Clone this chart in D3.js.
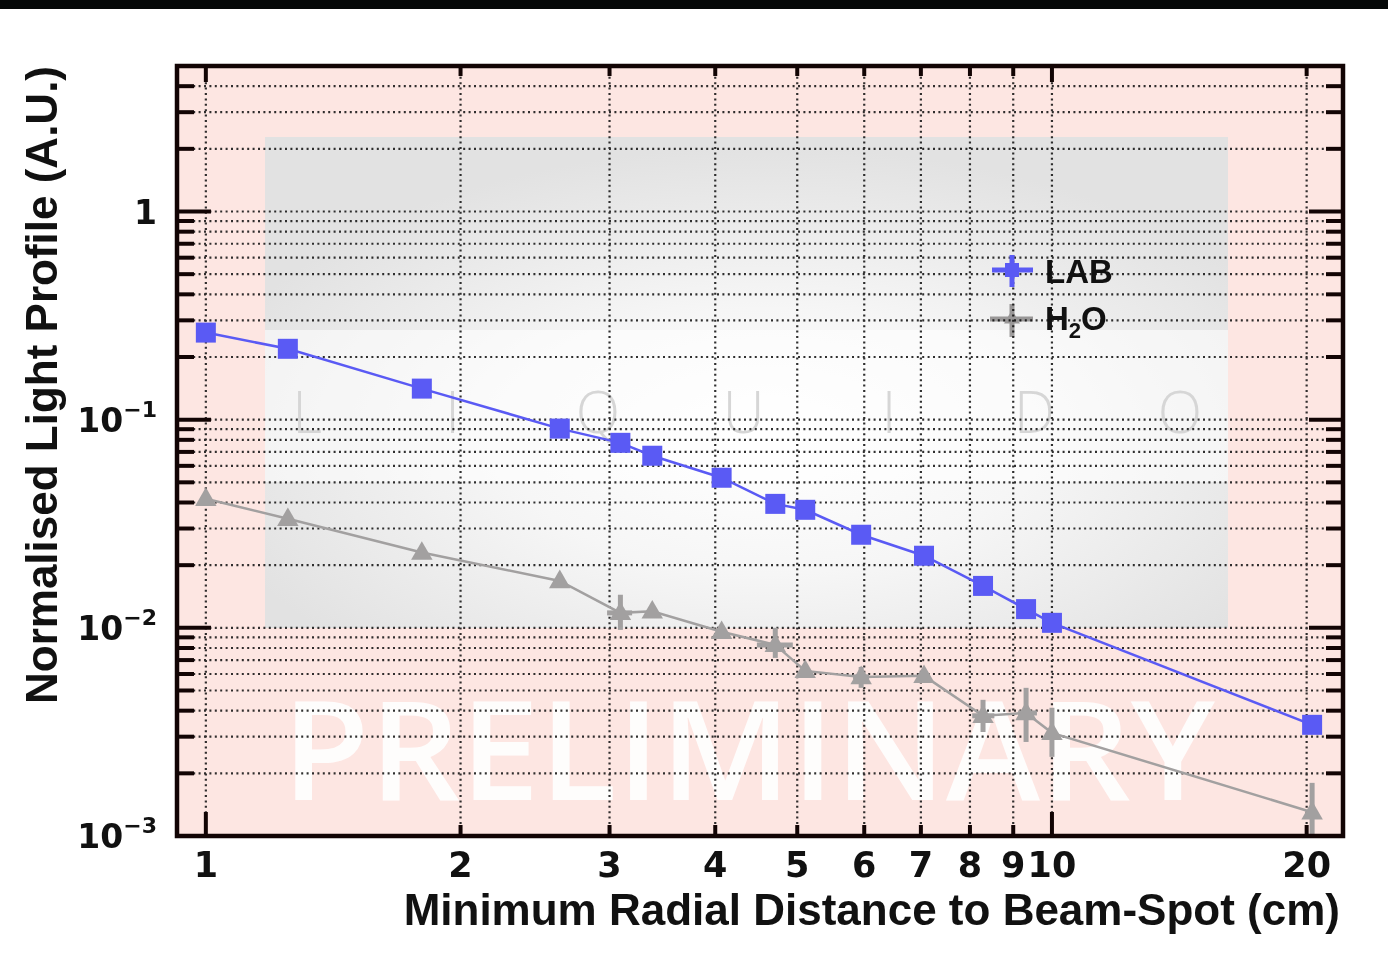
<!DOCTYPE html>
<html>
<head>
<meta charset="utf-8">
<script src="https://cdn.jsdelivr.net/npm/d3@7"></script>
<style>
  html, body { margin: 0; padding: 0; background: #fff; }
  svg { display: block; }
</style>
</head>
<body>
<div id="chart"></div>
<script>
// distances (cm), shared by both series
var distances = [1.0, 1.25, 1.80, 2.62, 3.09, 3.37, 4.07, 4.71, 5.11, 5.95, 7.06, 8.29, 9.32, 10.0, 20.3];

// LAB light profile
var labValues = [0.262, 0.219, 0.141, 0.0906, 0.0774, 0.0671, 0.0526, 0.0394, 0.0369, 0.0280, 0.0222, 0.0159, 0.0123, 0.01057, 0.00342];

// H2O light profile + error bars
var h2oValues = [0.0417, 0.0334, 0.0230, 0.0168, 0.0118, 0.0120, 0.00957, 0.00828, 0.00621, 0.00581, 0.00588, 0.00378, 0.00390, 0.00313, 0.00130];
var h2oLow    = [0.0417, 0.0334, 0.0230, 0.0168, 0.00978, 0.0120, 0.00957, 0.00717, 0.00621, 0.00515, 0.00588, 0.00316, 0.00283, 0.0024, 0.00095];
var h2oHigh   = [0.0417, 0.0334, 0.0230, 0.0168, 0.01442, 0.0120, 0.00957, 0.0100, 0.00621, 0.00649, 0.00588, 0.00451, 0.00515, 0.00413, 0.0018];
var h2oXLow   = [1.0, 1.25, 1.80, 2.62, 2.98, 3.37, 4.07, 4.48, 5.11, 5.82, 7.06, 8.05, 9.12, 10.0, 20.3];
var h2oXHigh  = [1.0, 1.25, 1.80, 2.62, 3.19, 3.37, 4.07, 4.94, 5.11, 6.08, 7.06, 8.55, 9.60, 10.0, 20.3];

// axes
var xTickValues = [1, 2, 3, 4, 5, 6, 7, 8, 9, 10, 20];
var xMajorTicks = [1, 10];
var yDecades = [-3, -2, -1, 0];
var yLabelTicks = [
  { v: 1, base: "1", exp: "" },
  { v: 0.1, base: "10", exp: "\u22121" },
  { v: 0.01, base: "10", exp: "\u22122" },
  { v: 0.001, base: "10", exp: "\u22123" }
];
var watermarkLetters = ["L", "I", "Q", "U", "I", "D", "O"];

var W = 1388, H = 959;
var plotL = 177, plotR = 1343, plotT = 66, plotB = 836;

var svg = d3.select("#chart").append("svg")
    .attr("width", W)
    .attr("height", H);

var x = d3.scaleLog().domain([0.9245, 22.08]).range([plotL, plotR]);
var y = d3.scaleLog().domain([1e-3, 5]).range([plotB, plotT]);

// y minor/major tick values
var yTicks = [];
yDecades.forEach(function (e) {
    for (var m = 1; m <= 9; m++) {
        var v = m * Math.pow(10, e);
        if (v <= 5.0001) yTicks.push({ v: v, major: m === 1 });
    }
});

// top dark strip
svg.append("rect").attr("x", 0).attr("y", 0).attr("width", W).attr("height", 9).attr("fill", "#050808");

var defs = svg.append("defs");
var rg = defs.append("radialGradient").attr("id", "glow")
    .attr("cx", "0.52").attr("cy", "0.62").attr("r", "0.6");
rg.append("stop").attr("offset", "0").attr("stop-color", "#ffffff");
rg.append("stop").attr("offset", "0.45").attr("stop-color", "#f6f6f6");
rg.append("stop").attr("offset", "1").attr("stop-color", "#e2e2e2");
defs.append("clipPath").attr("id", "plotclip")
  .append("rect").attr("x", plotL).attr("y", plotT).attr("width", plotR - plotL).attr("height", plotB - plotT);

// plot background
svg.append("rect").attr("x", plotL).attr("y", plotT).attr("width", plotR - plotL).attr("height", plotB - plotT)
    .attr("fill", "#fde6e2");
svg.append("rect").attr("x", 265).attr("y", 137).attr("width", 963).attr("height", 491)
    .attr("fill", "url(#glow)");
svg.append("rect").attr("x", 265).attr("y", 330).attr("width", 963).attr("height", 152)
    .attr("fill", "#ffffff").attr("opacity", 0.55);

// faint logo letters
svg.append("g").selectAll("text")
    .data(watermarkLetters)
    .enter().append("text")
    .attr("x", function (d, i) { return 307 + i * 145.5; })
    .attr("y", 433)
    .attr("text-anchor", "middle")
    .attr("font-family", "'Open Sans', sans-serif")
    .attr("font-weight", 300)
    .attr("font-size", 58)
    .attr("fill", "#d6d6d6")
    .text(function (d) { return d; });

// PRELIMINARY watermark
svg.append("text")
    .attr("x", 282).attr("y", 800)
    .attr("textLength", 933).attr("lengthAdjust", "spacingAndGlyphs")
    .attr("font-family", "'Open Sans', sans-serif")
    .attr("font-weight", 600)
    .attr("font-size", 138)
    .attr("fill", "#ffffff")
    .attr("opacity", 0.92)
    .text("PRELIMINARY");

// grid
var grid = svg.append("g").attr("stroke", "#1a1a1a").attr("stroke-width", 2.2)
    .attr("stroke-dasharray", "2,3.4").attr("opacity", 0.9);
grid.selectAll(".gx").data(xTickValues).enter().append("line")
    .attr("x1", function (d) { return x(d); }).attr("x2", function (d) { return x(d); })
    .attr("y1", plotT).attr("y2", plotB);
grid.selectAll(".gy").data(yTicks).enter().append("line")
    .attr("x1", plotL).attr("x2", plotR)
    .attr("y1", function (d) { return y(d.v); }).attr("y2", function (d) { return y(d.v); });

var plot = svg.append("g").attr("clip-path", "url(#plotclip)");

// H2O series
var gray = "#a2a0a0";
var h2o = plot.append("g").style("mix-blend-mode", "multiply");
var line = d3.line().x(function (d) { return x(d[0]); }).y(function (d) { return y(d[1]); });
h2o.append("path")
    .datum(distances.map(function (d, i) { return [d, h2oValues[i]]; }))
    .attr("d", line).attr("fill", "none").attr("stroke", gray).attr("stroke-width", 2.5);
h2o.selectAll(".ey").data(distances).enter().append("line")
    .attr("x1", function (d) { return x(d); }).attr("x2", function (d) { return x(d); })
    .attr("y1", function (d, i) { return y(h2oLow[i]); })
    .attr("y2", function (d, i) { return y(h2oHigh[i]); })
    .attr("stroke", gray).attr("stroke-width", 5);
h2o.selectAll(".ex").data(distances).enter().append("line")
    .attr("x1", function (d, i) { return x(h2oXLow[i]); })
    .attr("x2", function (d, i) { return x(h2oXHigh[i]); })
    .attr("y1", function (d, i) { return y(h2oValues[i]); })
    .attr("y2", function (d, i) { return y(h2oValues[i]); })
    .attr("stroke", gray).attr("stroke-width", 5);
var tri = d3.symbol().type(d3.symbolTriangle).size(200);
h2o.selectAll(".tri").data(distances).enter().append("path")
    .attr("d", tri)
    .attr("transform", function (d, i) { return "translate(" + x(d) + "," + (y(h2oValues[i]) + 1) + ")"; })
    .attr("fill", gray);

// LAB series
var blue = "#5a5af4";
plot.append("path")
    .datum(distances.map(function (d, i) { return [d, labValues[i]]; }))
    .attr("d", line).attr("fill", "none").attr("stroke", blue).attr("stroke-width", 2.5);
plot.selectAll(".sq").data(distances).enter().append("rect")
    .attr("x", function (d) { return x(d) - 10; })
    .attr("y", function (d, i) { return y(labValues[i]) - 10; })
    .attr("width", 20).attr("height", 20)
    .attr("fill", blue);

// frame ticks
var ticks = svg.append("g").attr("stroke", "#120404").attr("stroke-width", 4);
ticks.selectAll(".tb").data(xTickValues).enter().append("line")
    .attr("x1", function (d) { return x(d); }).attr("x2", function (d) { return x(d); })
    .attr("y1", plotB).attr("y2", function (d) { return plotB - (xMajorTicks.indexOf(d) >= 0 ? 24 : 11); });
ticks.selectAll(".tt").data(xTickValues).enter().append("line")
    .attr("x1", function (d) { return x(d); }).attr("x2", function (d) { return x(d); })
    .attr("y1", plotT).attr("y2", function (d) { return plotT + (xMajorTicks.indexOf(d) >= 0 ? 16 : 10); });
ticks.selectAll(".tl").data(yTicks).enter().append("line")
    .attr("x1", plotL).attr("x2", function (d) { return plotL + (d.major ? 34 : 17); })
    .attr("y1", function (d) { return y(d.v); }).attr("y2", function (d) { return y(d.v); });
ticks.selectAll(".tr").data(yTicks).enter().append("line")
    .attr("x1", plotR).attr("x2", function (d) { return plotR - (d.major ? 34 : 17); })
    .attr("y1", function (d) { return y(d.v); }).attr("y2", function (d) { return y(d.v); });

svg.append("rect").attr("x", plotL).attr("y", plotT).attr("width", plotR - plotL).attr("height", plotB - plotT)
    .attr("fill", "none").attr("stroke", "#120404").attr("stroke-width", 4.5);

// tick labels
var tickFont = "'DejaVu Sans', sans-serif";
svg.append("g").selectAll("text").data(xTickValues).enter().append("text")
    .attr("x", function (d) { return x(d); })
    .attr("y", 877)
    .attr("text-anchor", "middle")
    .attr("font-family", tickFont).attr("font-weight", "bold").attr("font-size", 35)
    .attr("fill", "#111")
    .text(function (d) { return d; });

var yl = svg.append("g").selectAll("text").data(yLabelTicks).enter().append("text")
    .attr("x", 157)
    .attr("y", function (d) { return y(d.v) + 12; })
    .attr("text-anchor", "end")
    .attr("font-family", tickFont).attr("font-weight", "bold").attr("font-size", 33)
    .attr("fill", "#111");
yl.append("tspan").text(function (d) { return d.base; });
yl.append("tspan").attr("dy", -15).attr("font-size", 22).text(function (d) { return d.exp; });

// axis titles
svg.append("text")
    .attr("x", 1340).attr("y", 925)
    .attr("text-anchor", "end")
    .attr("font-family", "'Liberation Sans', Arial, sans-serif").attr("font-weight", "bold").attr("font-size", 44)
    .attr("fill", "#111")
    .text("Minimum Radial Distance to Beam-Spot (cm)");
svg.append("text")
    .attr("transform", "translate(57,385) rotate(-90)")
    .attr("text-anchor", "middle")
    .attr("font-family", "'Liberation Sans', Arial, sans-serif").attr("font-weight", "bold").attr("font-size", 44)
    .attr("fill", "#111")
    .text("Normalised Light Profile (A.U.)");

// legend
var lg = svg.append("g");
lg.append("line").attr("x1", 992).attr("x2", 1033).attr("y1", 270).attr("y2", 270).attr("stroke", blue).attr("stroke-width", 5);
lg.append("line").attr("x1", 1012).attr("x2", 1012).attr("y1", 255).attr("y2", 287).attr("stroke", blue).attr("stroke-width", 5);
lg.append("rect").attr("x", 1005).attr("y", 263).attr("width", 14).attr("height", 14).attr("fill", blue);
lg.append("text").attr("x", 1045).attr("y", 283)
    .attr("font-family", "'Liberation Sans', Arial, sans-serif").attr("font-weight", "bold").attr("font-size", 33)
    .attr("fill", "#111").text("LAB");
var lg2 = lg.append("g").style("mix-blend-mode", "multiply");
lg2.append("line").attr("x1", 990).attr("x2", 1033).attr("y1", 319).attr("y2", 319).attr("stroke", gray).attr("stroke-width", 5);
lg2.append("line").attr("x1", 1012).attr("x2", 1012).attr("y1", 304).attr("y2", 337).attr("stroke", gray).attr("stroke-width", 5);
lg2.append("path").attr("d", d3.symbol().type(d3.symbolTriangle).size(110)).attr("transform", "translate(1012,319)").attr("fill", gray);
var h2oLabel = lg.append("text").attr("x", 1045).attr("y", 330)
    .attr("font-family", "'Liberation Sans', Arial, sans-serif").attr("font-weight", "bold").attr("font-size", 33)
    .attr("fill", "#111");
h2oLabel.append("tspan").text("H");
h2oLabel.append("tspan").attr("dy", 8).attr("font-size", 22).text("2");
h2oLabel.append("tspan").attr("dy", -8).text("O");
</script>
</body>
</html>
